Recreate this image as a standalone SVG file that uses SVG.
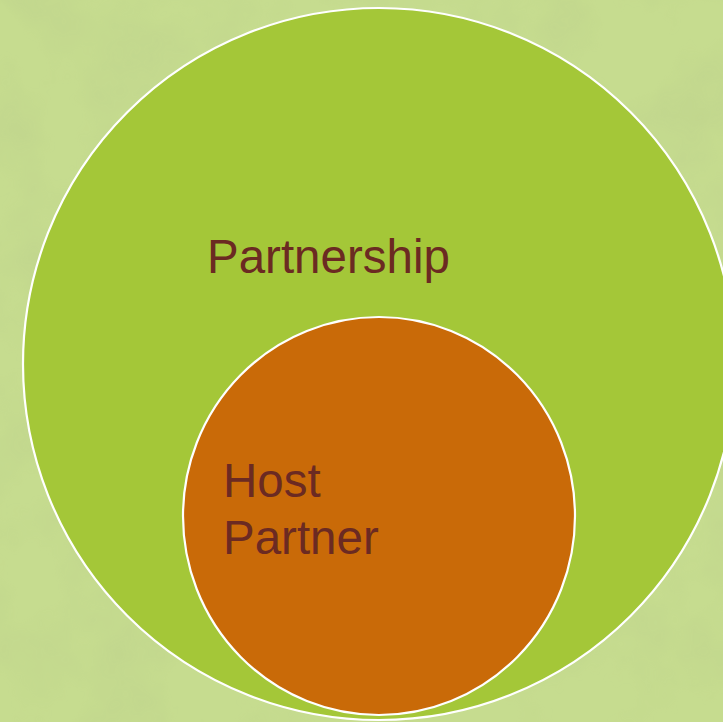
<svg xmlns="http://www.w3.org/2000/svg" width="723" height="722" viewBox="0 0 723 722">
  <defs>
    <filter id="tex" x="0" y="0" width="100%" height="100%">
      <feTurbulence type="fractalNoise" baseFrequency="0.012" numOctaves="4" seed="7" result="n"/>
      <feColorMatrix in="n" type="matrix" values="0 0 0 0 0.45  0 0 0 0 0.55  0 0 0 0 0.25  0 0 0 1.4 -0.55" result="m"/>
      <feComposite in="m" in2="SourceGraphic" operator="in"/>
    </filter>
    <style>
      .lbl { font-family: "Liberation Sans", Arial, sans-serif; font-size: 47.5px; fill: #6b2a22; }
      .ring { stroke: #ffffff; stroke-width: 2.2; }
    </style>
  </defs>
  <rect x="0" y="0" width="723" height="722" fill="#c6dc8f"/>
  <rect x="0" y="0" width="723" height="722" fill="#000" filter="url(#tex)" opacity="0.35"/>
  <g id="partnership">
    <circle class="ring" cx="379" cy="364" r="356" fill="#a4c738"/>
    <text class="lbl" x="207" y="273">Partnership</text>
  </g>
  <g id="host-partner">
    <ellipse class="ring" cx="379" cy="516" rx="196" ry="199" fill="#c96a08"/>
    <text class="lbl" x="223" y="497">Host</text>
    <text class="lbl" x="223" y="554">Partner</text>
  </g>
  <g id="connectors"/>
</svg>
